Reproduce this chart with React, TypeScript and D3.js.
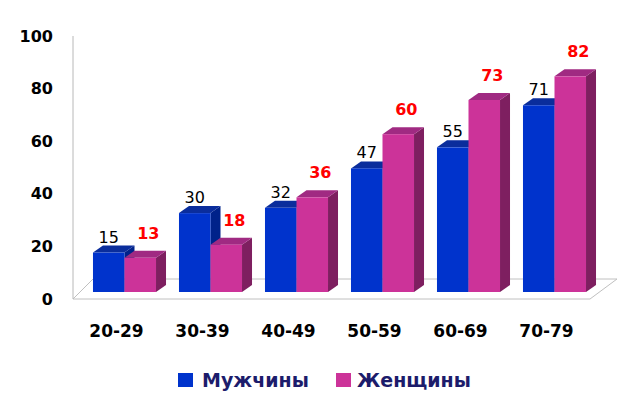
import React from "react";
import * as d3 from "d3";

const categories = ["20-29", "30-39", "40-49", "50-59", "60-69", "70-79"];
const men = [15, 30, 32, 47, 55, 71];
const women = [13, 18, 36, 60, 73, 82];
const seriesNames = ["Мужчины", "Женщины"];
const yTicks = [0, 20, 40, 60, 80, 100];

const W = 640;
const H = 405;
const FONT = "'DejaVu Sans', Verdana, sans-serif";

const palette = [
  { front: "#0033cc", top: "#0a2d9c", side: "#00228a", label: "#000000" },
  { front: "#cc3399", top: "#a02a82", side: "#7e1f60", label: "#ff0000" },
];

export default function App() {
  const yAxis = d3.scaleLinear().domain([0, 100]).range([299, 36]);
  const depthX = 10;
  const depthY = 7;
  const yBar = (v: number) => yAxis(v) - 7;

  const x0 = d3.scaleBand<string>().domain(categories).range([81.5, 597.5]).paddingInner(0.267).paddingOuter(0.1335);
  const x1 = d3.scaleBand<string>().domain(seriesNames).range([0, x0.bandwidth()]);

  const data = [men, women];

  const floor = [
    [73, 299],
    [590, 299],
    [617, 279],
    [93, 279],
  ];

  const bars: JSX.Element[] = [];
  const labels: JSX.Element[] = [];
  categories.forEach((c, i) => {
    seriesNames.forEach((s, si) => {
      const v = data[si][i];
      const x = (x0(c) as number) + (x1(s) as number);
      const w = x1.bandwidth();
      const yt = yBar(v);
      const yb = yBar(0);
      const col = palette[si];
      bars.push(
        <g key={`${c}-${s}`}>
          <polygon
            points={`${x + w},${yt} ${x + w + depthX},${yt - depthY} ${x + w + depthX},${yb - depthY} ${x + w},${yb}`}
            fill={col.side}
          />
          <polygon
            points={`${x},${yt} ${x + depthX},${yt - depthY} ${x + w + depthX},${yt - depthY} ${x + w},${yt}`}
            fill={col.top}
          />
          <rect x={x} y={yt} width={w} height={yb - yt} fill={col.front} />
        </g>
      );
      const lx = si === 0 ? x + w / 2 : x + w / 2 + 8;
      const ly = si === 0 ? yt - depthY - 3 : yt - depthY - 12;
      labels.push(
        <text
          key={`l-${c}-${s}`}
          x={lx}
          y={ly}
          textAnchor="middle"
          fontFamily={FONT}
          fontSize={16}
          fontWeight={si === 1 ? "bold" : "normal"}
          fill={col.label}
        >
          {v}
        </text>
      );
    });
  });

  return (
    <svg
      width={W}
      height={H}
      viewBox={`0 0 ${W} ${H}`}
      style={{ position: "absolute", left: 0, top: 0, background: "#ffffff" }}
    >
      <rect x={0} y={0} width={W} height={H} fill="#ffffff" />
      <polygon points={floor.map((p) => p.join(",")).join(" ")} fill="#ffffff" stroke="#c0c0c0" strokeWidth={1} />
      <line x1={73} y1={yAxis(100)} x2={73} y2={yAxis(0)} stroke="#b8b8b8" strokeWidth={1} />
      {yTicks.map((t) => (
        <text
          key={`t-${t}`}
          x={53}
          y={yAxis(t)}
          dy="0.35em"
          textAnchor="end"
          fontFamily={FONT}
          fontSize={16}
          fontWeight="bold"
          fill="#000"
        >
          {t}
        </text>
      ))}
      {bars}
      {labels}
      {categories.map((c) => (
        <text
          key={`c-${c}`}
          x={(x0(c) as number) + x0.bandwidth() / 2 - 8}
          y={337}
          textAnchor="middle"
          fontFamily={FONT}
          fontSize={17}
          fontWeight="bold"
          fill="#000"
        >
          {c}
        </text>
      ))}
      <g>
        <rect x={178} y={373} width={15} height={14} fill={palette[0].front} />
        <text x={202} y={387} fontFamily={FONT} fontSize={19} fontWeight="bold" fill="#1c1c6b">
          {seriesNames[0]}
        </text>
        <rect x={336} y={373} width={15} height={14} fill={palette[1].front} />
        <text x={357} y={387} fontFamily={FONT} fontSize={19} fontWeight="bold" fill="#1c1c6b">
          {seriesNames[1]}
        </text>
      </g>
    </svg>
  );
}
